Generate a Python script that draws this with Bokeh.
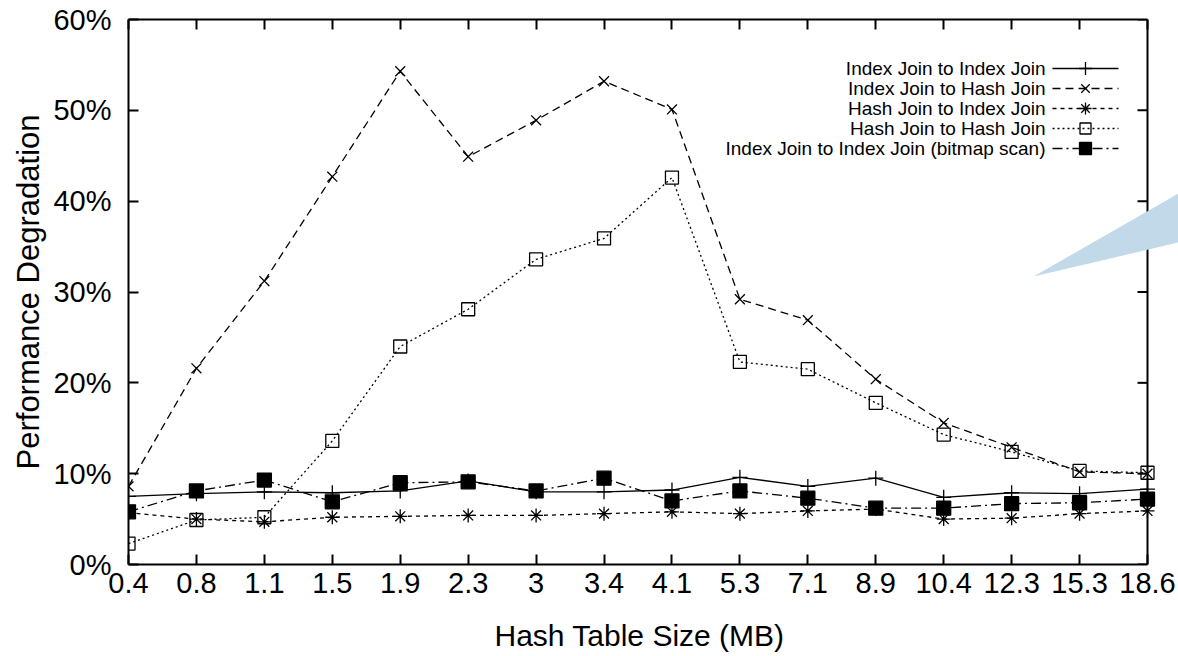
from bokeh.plotting import figure
from bokeh.models import (Range1d, FixedTicker, LinearAxis, PrintfTickFormatter,
                          CustomJSTickFormatter, PolyAnnotation, Span, Title)
from bokeh.core.properties import value
from bokeh.embed import file_html
from bokeh.resources import INLINE

categories = ["0.4", "0.8", "1.1", "1.5", "1.9", "2.3", "3", "3.4", "4.1",
              "5.3", "7.1", "8.9", "10.4", "12.3", "15.3", "18.6"]
ij_to_ij = [7.5, 7.8, 8.0, 7.9, 8.1, 9.2, 8.0, 8.0, 8.2, 9.6, 8.6, 9.5, 7.4, 7.9, 7.8, 8.3]
ij_to_hj = [8.6, 21.6, 31.2, 42.7, 54.3, 44.9, 48.9, 53.2, 50.1, 29.2, 26.9, 20.4, 15.6, 12.9, 10.2, 10.0]
hj_to_ij = [5.7, 5.0, 4.7, 5.2, 5.3, 5.4, 5.4, 5.6, 5.8, 5.6, 5.9, 6.1, 5.0, 5.1, 5.6, 5.9]
hj_to_hj = [2.3, 4.9, 5.2, 13.6, 24.0, 28.1, 33.6, 35.9, 42.6, 22.3, 21.5, 17.8, 14.3, 12.4, 10.3, 10.1]
ij_to_ij_bitmap = [5.8, 8.1, 9.3, 6.9, 9.0, 9.1, 8.1, 9.5, 7.0, 8.1, 7.3, 6.2, 6.2, 6.7, 6.8, 7.2]
y_ticks = [0, 10, 20, 30, 40, 50, 60]

series_names = ["Index Join to Index Join", "Index Join to Hash Join",
                "Hash Join to Index Join", "Hash Join to Hash Join",
                "Index Join to Index Join (bitmap scan)"]

FONT = "Liberation Sans"
xs = list(range(len(categories)))
n = len(categories) - 1

# frame geometry (pixels): the plotted box runs 128..1147 horizontally,
# the frame itself is extended to the page edge so the slide's callout fits
BOX_L, BOX_R, FRAME_R, BOX_T, BOX_B = 128, 1147, 1178, 19, 564
px = n / (BOX_R - BOX_L)          # data units per pixel (x)
py = 60 / (BOX_B - BOX_T)         # data units per pixel (y)
x_end = (FRAME_R - BOX_L) * px

p = figure(width=1178, height=656, output_backend="svg", toolbar_location=None,
           x_range=Range1d(0, x_end), y_range=Range1d(0, 60),
           min_border_left=BOX_L, min_border_right=0, min_border_top=BOX_T,
           min_border_bottom=656 - BOX_B)
p.grid.visible = False
p.outline_line_color = None
p.background_fill_color = "white"
p.border_fill_color = "white"

# axes
p.xaxis.ticker = FixedTicker(ticks=xs)
p.xaxis.bounds = (0, n)
p.xaxis.major_label_overrides = {i: c for i, c in enumerate(categories)}
p.yaxis.ticker = FixedTicker(ticks=y_ticks)
p.yaxis.formatter = PrintfTickFormatter(format="%d%%")
for ax in (p.xaxis[0], p.yaxis[0]):
    ax.axis_line_width = 2
    ax.major_tick_in = 10
    ax.major_tick_out = 0
    ax.major_tick_line_width = 2
    ax.minor_tick_line_color = None
    ax.major_label_text_font = FONT
    ax.major_label_text_font_size = "29px"
    ax.major_label_text_color = "black"
    ax.axis_label_text_font = FONT
    ax.axis_label_text_font_size = "31px"
    ax.axis_label_text_font_style = "normal"
    ax.axis_label_text_color = "black"
p.yaxis.axis_label = "Performance Degradation"
p.xaxis.major_label_standoff = 8
p.yaxis.major_label_standoff = 17
p.yaxis.axis_label_standoff = 4

blank = CustomJSTickFormatter(code="return ''")

# invisible spacer between tick labels and the x title
spacer = LinearAxis(ticker=FixedTicker(ticks=[0]), formatter=blank,
                    major_tick_in=0, major_tick_out=23, axis_line_color=None,
                    major_tick_line_color=None, minor_tick_line_color=None,
                    major_label_standoff=0, major_label_text_font_size="1px")
p.add_layout(spacer, "below")

# x-axis title placed under the plotted box (not the extended frame)
p.add_layout(Title(text="Hash Table Size (MB)", align="left", offset=366,
                   vertical_align="top", standoff=0, text_font=FONT,
                   text_font_size="30px", text_font_style="normal",
                   text_color="black"), "below")

top = LinearAxis(ticker=FixedTicker(ticks=xs), formatter=blank, bounds=(0, n),
                 major_tick_in=10, major_tick_out=0, minor_tick_line_color=None,
                 axis_line_width=2, major_tick_line_width=2, major_label_standoff=0)
p.add_layout(top, "above")

# right border with inward mirror ticks
p.add_layout(Span(location=n, dimension="height", line_color="black", line_width=2))
p.segment(x0=[n - 10 * px] * len(y_ticks), y0=y_ticks, x1=[n] * len(y_ticks), y1=y_ticks,
          line_color="black", line_width=2)

# data series
styles = [
    dict(data=ij_to_ij, dash="solid", marker="cross", fill="black", size=15),
    dict(data=ij_to_hj, dash="8 5", marker="x", fill="black", size=14),
    dict(data=hj_to_ij, dash="4 4", marker="asterisk", fill="black", size=14),
    dict(data=hj_to_hj, dash="2 3", marker="square", fill=None, size=13),
    dict(data=ij_to_ij_bitmap, dash="10 4 2 4", marker="square", fill="black", size=14),
]
for s in styles:
    p.line(xs, s["data"], line_color="black", line_width=1.3, line_dash=s["dash"])
    p.scatter(xs, s["data"], marker=s["marker"], size=s["size"], line_color="black",
              line_width=1.3, fill_color=s["fill"])

# legend (text right-aligned, sample on the right, like gnuplot)
text_x = (1045 - BOX_L) * px
l0 = (1052 - BOX_L) * px
l1 = (1118 - BOX_L) * px
lm = (1085 - BOX_L) * px
for i, (name, s) in enumerate(zip(series_names, styles)):
    yy = (BOX_B - (68 + 20 * i)) * py
    p.text([text_x], [yy], text=[name], text_align="right", text_baseline="middle",
           text_font=value(FONT), text_font_size="19px", text_color="black")
    p.line([l0, l1], [yy, yy], line_color="black", line_width=1.3, line_dash=s["dash"])
    p.scatter([lm], [yy], marker=s["marker"], size=s["size"] - 2, line_color="black",
              line_width=1.3, fill_color=s["fill"])

# light blue callout pointer from the slide
tri_x = [(1033 - BOX_L) * px, x_end, x_end]
tri_y = [(BOX_B - 276) * py, (BOX_B - 193) * py, (BOX_B - 242) * py]
p.add_layout(PolyAnnotation(xs=tri_x, ys=tri_y, fill_color="#c2d9ea", fill_alpha=1.0,
                            line_color=None, level="overlay"))

open("out.html", "w").write(file_html(p, INLINE))
